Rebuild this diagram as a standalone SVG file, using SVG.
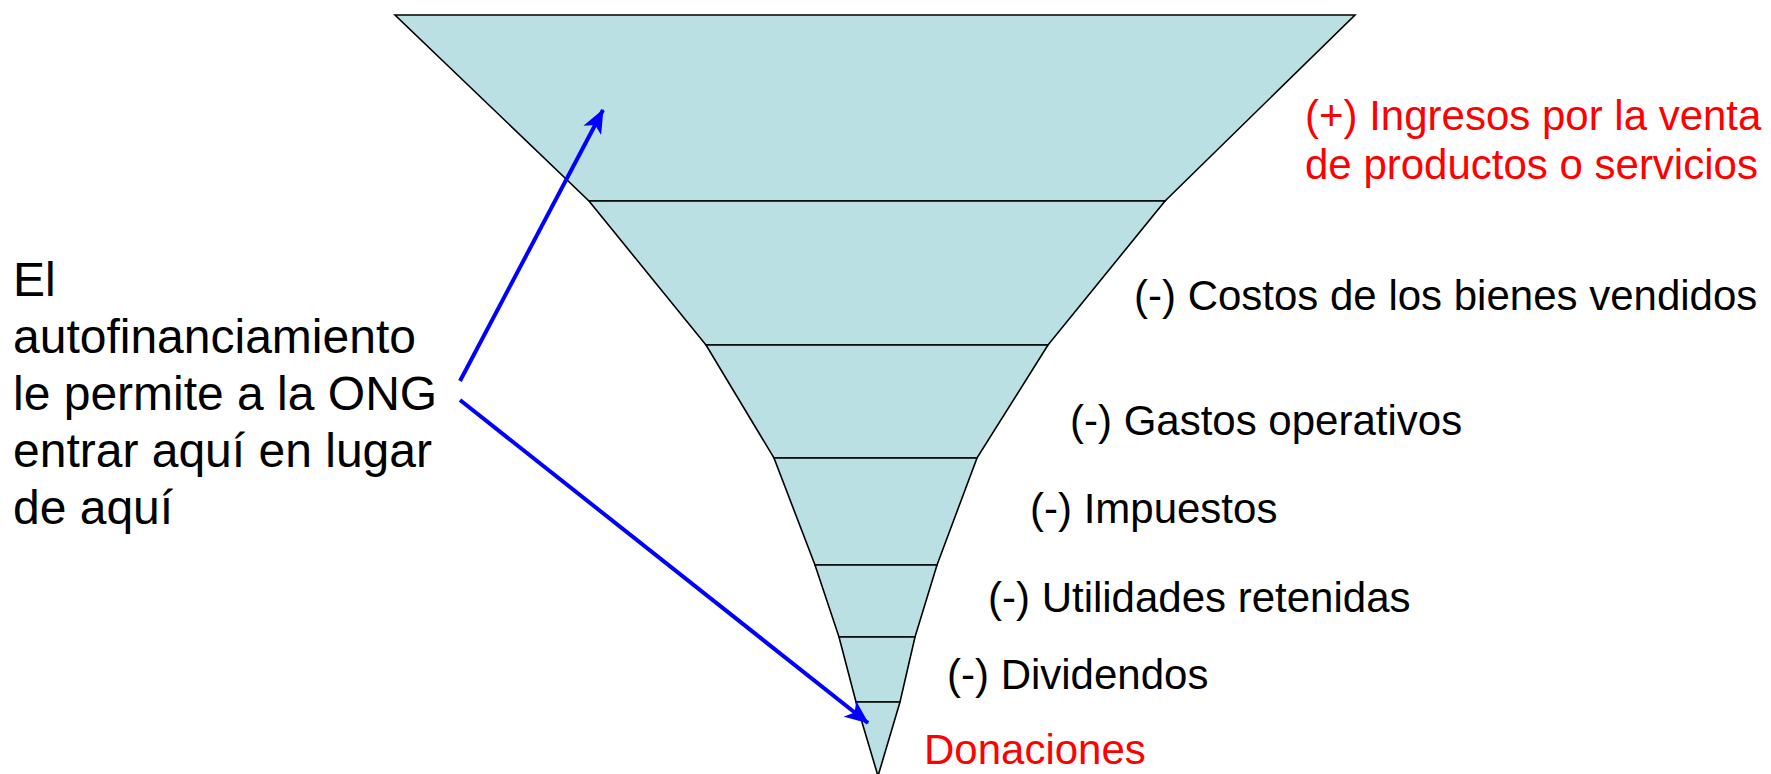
<svg xmlns="http://www.w3.org/2000/svg" width="1771" height="774" viewBox="0 0 1771 774">
<style>
.band{fill:#BBE0E3;stroke:#000;stroke-width:1.6;stroke-linejoin:miter}
.t{font-family:"Liberation Sans",Arial,sans-serif;font-size:42px;fill:#000}
.red{fill:#FF0000}
.lt{font-family:"Liberation Sans",Arial,sans-serif;font-size:48px;fill:#000}
.arr{stroke:#0000FF;stroke-width:4;fill:none}
</style>
<defs>
<marker id="ah" viewBox="0 0 24 20" refX="23" refY="10" markerWidth="24" markerHeight="20" markerUnits="userSpaceOnUse" orient="auto">
<path d="M0,0 L24,10 L0,20 L6,10 Z" fill="#0000FF"/>
</marker>
</defs>
<rect width="1771" height="774" fill="#fff"/>
<g id="funnel">
<g id="band1"><polygon class="band" points="395,15 1355,15 1165,201 589,201"/></g>
<g id="band2"><polygon class="band" points="589,201 1165,201 1048,345 706,345"/></g>
<g id="band3"><polygon class="band" points="706,345 1048,345 977,458 774,458"/></g>
<g id="band4"><polygon class="band" points="774,458 977,458 937,565 815,565"/></g>
<g id="band5"><polygon class="band" points="815,565 937,565 915,637 839,637"/></g>
<g id="band6"><polygon class="band" points="839,637 915,637 900,702 856,702"/></g>
<g id="band7"><polygon class="band" points="856,702 900,702 878,776"/></g>
</g>
<g id="labels">
<text class="t red" x="1305" y="130">(+) Ingresos por la venta</text>
<text class="t red" x="1305" y="179">de productos o servicios</text>
<text class="t" x="1134" y="310">(-) Costos de los bienes vendidos</text>
<text class="t" x="1070" y="435">(-) Gastos operativos</text>
<text class="t" x="1030" y="523">(-) Impuestos</text>
<text class="t" x="988" y="612">(-) Utilidades retenidas</text>
<text class="t" x="947" y="689">(-) Dividendos</text>
<text class="t red" x="924" y="764">Donaciones</text>
</g>
<g id="note">
<text class="lt" x="13" y="296">El</text>
<text class="lt" x="13" y="353">autofinanciamiento</text>
<text class="lt" x="13" y="410">le permite a la ONG</text>
<text class="lt" x="13" y="467">entrar aquí en lugar</text>
<text class="lt" x="13" y="524">de aquí</text>
</g>
<g id="connectors">
<line class="arr" x1="460" y1="381" x2="603" y2="110" marker-end="url(#ah)"/>
<line class="arr" x1="460" y1="400" x2="868" y2="723" marker-end="url(#ah)"/>
</g>
</svg>
